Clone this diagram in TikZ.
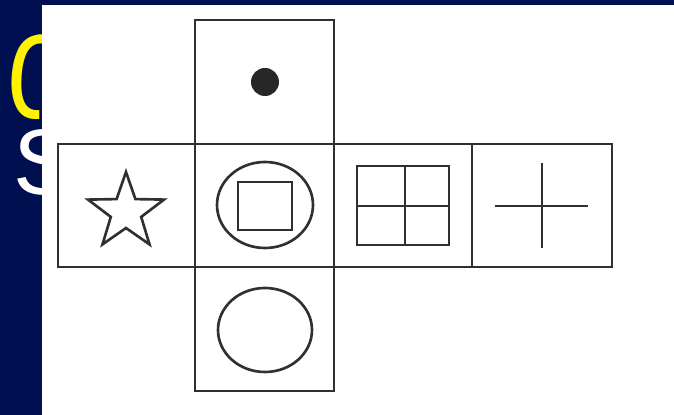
\documentclass[tikz,border=0pt]{standalone}
\usepackage{fontspec}
\newfontfamily\bnfont[Script=Bengali]{Hind Siliguri}
\newfontfamily\slidefont{Liberation Sans}
\usepackage{xcolor}
\definecolor{slidenavy}{HTML}{000F50}
\definecolor{netgray}{HTML}{303030}

\begin{document}
\begin{tikzpicture}[x=0.02cm, y=-0.02cm,
    netline/.style={line width=1.7pt, draw=netgray, line join=miter},
    figline/.style={line width=1.5pt, draw=netgray}]
    % Slide background
    \useasboundingbox (0,0) rectangle (674,415);
    \fill[slidenavy] (0,0) rectangle (674,415);
    \node[anchor=base west, inner sep=0pt, text=yellow] (bntitle) at (3,119)
        {\bnfont\fontsize{74}{80}\selectfont কে};
    \node[anchor=base west, inner sep=0pt, text=white] (entitle) at (13,195)
        {\slidefont\fontsize{53}{60}\selectfont S};
    \draw[yellow, line width=2.2pt] (283,-4) arc[start angle=180, end angle=360, x radius=7, y radius=7];

    % Picture panel
    \fill[white] (42,5) rectangle (674,415);

    % Net of the cube
    \draw[netline] (195,20) rectangle (334,144);
    \draw[netline] (58,144) rectangle (195,267);
    \draw[netline] (195,144) rectangle (334,267);
    \draw[netline] (334,144) rectangle (472,267);
    \draw[netline] (472,144) rectangle (612,267);
    \draw[netline] (195,267) rectangle (334,391);

    % Top face: dot
    \fill[netgray!80!black] (265,82) circle (14);

    % Star
    \draw[figline, line join=miter] (126,172) -- (135.4,199.1) -- (164,199.6) -- (141.2,216.9)
        -- (149.5,244.4) -- (126,228) -- (102.5,244.4) -- (110.8,216.9)
        -- (88,199.6) -- (116.6,199.1) -- cycle;

    % Circle with square
    \draw[figline] (265,205) ellipse[x radius=48, y radius=43];
    \draw[figline] (238,182) rectangle (292,230);

    % Four windows
    \draw[figline] (357,166) rectangle (449,245);
    \draw[figline] (405,166) -- (405,245);
    \draw[figline] (357,206) -- (449,206);

    % Cross
    \draw[figline] (495,206) -- (588,206);
    \draw[figline] (542,163) -- (542,248);

    % Bottom face: circle
    \draw[figline] (265,330) ellipse[x radius=47, y radius=42];
\end{tikzpicture}
\end{document}
